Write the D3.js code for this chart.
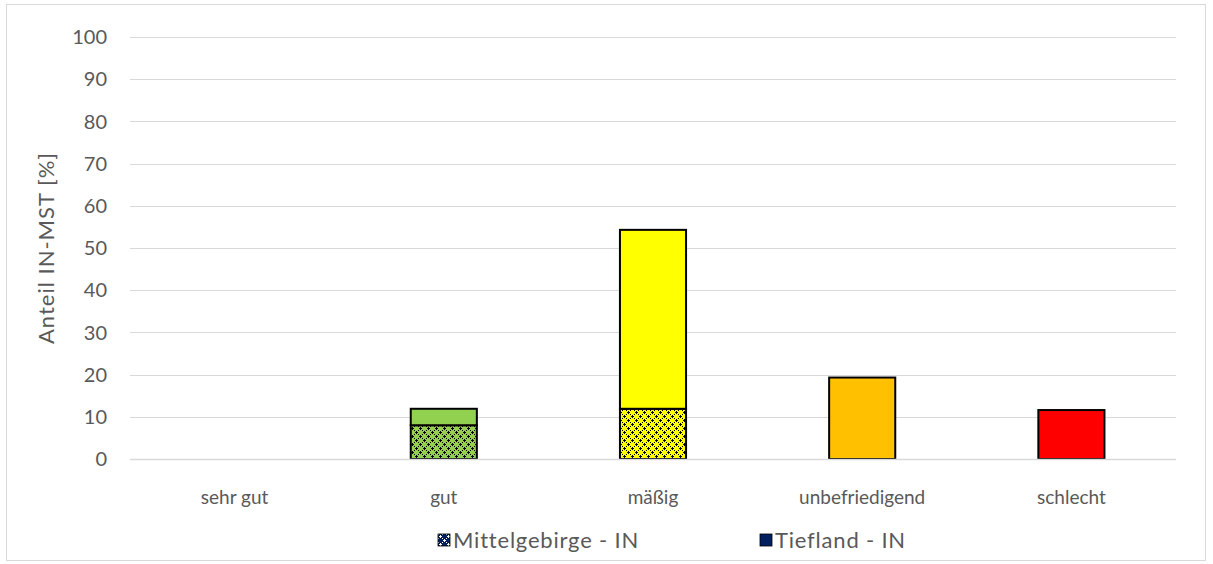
<!DOCTYPE html>
<html><head><meta charset="utf-8">
<script src="https://cdn.jsdelivr.net/npm/d3@7"></script>
<style>body{margin:0;background:#fff;} text{font-family:Lato,"Open Sans",sans-serif;fill:#595959;}</style>
</head><body>
<svg id="c" width="1213" height="564"></svg>
<script>
const categories = ["sehr gut","gut","mäßig","unbefriedigend","schlecht"];
const mittelgebirge = [0, 8.0, 11.9, 0, 0];
const tiefland = [0, 3.9, 42.4, 19.3, 11.6];
const catColors = ["#0070C0","#92D050","#FFFF00","#FFC000","#FF0000"];
const yTicks = [0,10,20,30,40,50,60,70,80,90,100];
const seriesNames = ["Mittelgebirge - IN","Tiefland - IN"];
const legendColor = "#002060";

const svg = d3.select("#c");
const m = {left:130, right:1176, top:37, bottom:459};

svg.append("rect").attr("x",6.5).attr("y",4.5).attr("width",1199).attr("height",556)
  .attr("fill","#fff").attr("stroke","#d9d9d9");

const defs = svg.append("defs");
function makePattern(id,bg,fg){
  const p = defs.append("pattern").attr("id",id).attr("patternUnits","userSpaceOnUse")
    .attr("width",8).attr("height",8);
  p.append("rect").attr("width",8).attr("height",8).attr("fill",bg);
  const pts = [[0,0],[1,0],[0,1],[4,4],[5,4],[4,5],[2,2],[6,6],[6,2],[2,6],[3,4],[4,3],[7,0],[0,7]];
  pts.forEach(([x,y])=>p.append("rect").attr("x",x).attr("y",y).attr("width",1).attr("height",1).attr("fill",fg).attr("shape-rendering","crispEdges"));
}
catColors.forEach((c,i)=>makePattern("pat"+i,c,"#000"));
makePattern("patLeg",legendColor,"#fff");

const x = d3.scaleBand().domain(categories).range([m.left,m.right]).paddingInner(0.684).paddingOuter(0.342);
const y = d3.scaleLinear().domain([0,100]).range([m.bottom,m.top]);

svg.append("g").selectAll("line").data(yTicks).join("line")
  .attr("x1",m.left).attr("x2",m.right)
  .attr("y1",d=>Math.round(y(d))+0.5).attr("y2",d=>Math.round(y(d))+0.5)
  .attr("stroke","#d9d9d9").attr("stroke-width",1);

svg.append("g").selectAll("text").data(yTicks).join("text")
  .attr("x",107).attr("y",d=>y(d)).attr("dy","0.36em").attr("text-anchor","end")
  .attr("font-size","20px").text(d=>d);

svg.append("text").attr("transform",`translate(46,${(m.top+m.bottom)/2}) rotate(-90)`)
  .attr("text-anchor","middle").attr("dy","0.36em").attr("font-size","22px")
  .attr("letter-spacing","1px").text("Anteil IN-MST [%]");

const stacked = categories.map((c,i)=>({c,i,m:mittelgebirge[i],t:tiefland[i]}));
const g = svg.append("g");
stacked.forEach(d=>{
  if(d.m>0){
    g.append("rect").attr("x",x(d.c)).attr("width",x.bandwidth())
      .attr("y",y(d.m)).attr("height",y(0)-y(d.m))
      .attr("fill",`url(#pat${d.i})`).attr("stroke","#000").attr("stroke-width",2);
  }
  if(d.t>0){
    g.append("rect").attr("x",x(d.c)).attr("width",x.bandwidth())
      .attr("y",y(d.m+d.t)).attr("height",y(d.m)-y(d.m+d.t))
      .attr("fill",catColors[d.i]).attr("stroke","#000").attr("stroke-width",2);
  }
});

svg.append("line").attr("x1",m.left).attr("x2",m.right).attr("y1",Math.round(y(0))+0.5).attr("y2",Math.round(y(0))+0.5)
  .attr("stroke","#d9d9d9").attr("stroke-width",1.5);

svg.append("g").selectAll("text").data(categories).join("text")
  .attr("x",d=>x(d)+x.bandwidth()/2).attr("y",497).attr("dy","0.36em").attr("text-anchor","middle")
  .attr("font-size","19px").text(d=>d);

const leg = [{name:seriesNames[0],fill:"url(#patLeg)",x:438},{name:seriesNames[1],fill:legendColor,x:760}];
leg.forEach(l=>{
  svg.append("rect").attr("x",l.x).attr("y",534).attr("width",12).attr("height",12)
    .attr("fill",l.fill).attr("stroke","#000").attr("stroke-width",0.8);
  svg.append("text").attr("x",l.x+15).attr("y",540).attr("dy","0.36em").attr("font-size","22px")
    .attr("letter-spacing","0.8px").text(l.name);
});
</script>
</body></html>
